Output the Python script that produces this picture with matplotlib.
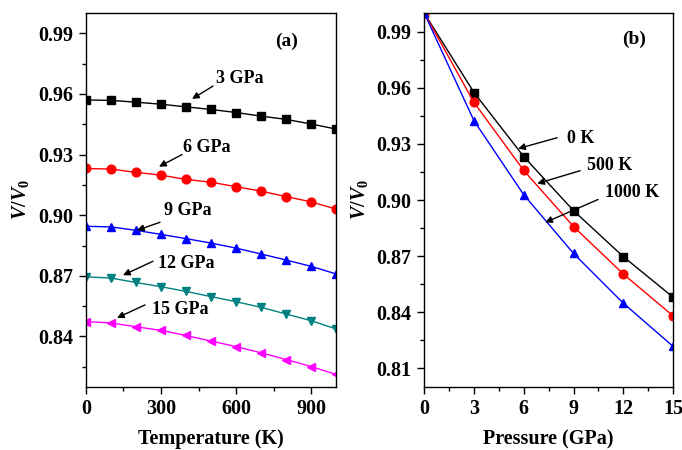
import matplotlib
matplotlib.use('Agg')
import matplotlib.pyplot as plt
from matplotlib.ticker import MultipleLocator, FormatStrFormatter

plt.rcParams['font.family'] = 'Liberation Serif'
plt.rcParams['font.weight'] = 'bold'
plt.rcParams['mathtext.fontset'] = 'custom'
plt.rcParams['mathtext.it'] = 'Liberation Serif:italic:bold'
plt.rcParams['mathtext.rm'] = 'Liberation Serif:bold'
plt.rcParams['mathtext.bf'] = 'Liberation Serif:bold'

# (a) V/V0 vs temperature at fixed pressures
temps = [0, 100, 200, 300, 400, 500, 600, 700, 800, 900, 1000]
v_3gpa = [0.9570, 0.9568, 0.9559, 0.9549, 0.9536, 0.9523, 0.9508, 0.9490, 0.9474, 0.9451, 0.9426]
v_6gpa = [0.9231, 0.9228, 0.9212, 0.9198, 0.9177, 0.9163, 0.9141, 0.9119, 0.9092, 0.9066, 0.9030]
v_9gpa = [0.8945, 0.8942, 0.8925, 0.8905, 0.8884, 0.8862, 0.8837, 0.8808, 0.8778, 0.8747, 0.8709]
v_12gpa = [0.8695, 0.8689, 0.8667, 0.8646, 0.8623, 0.8597, 0.8572, 0.8544, 0.8511, 0.8478, 0.8437]
v_15gpa = [0.8474, 0.8467, 0.8448, 0.8430, 0.8405, 0.8377, 0.8350, 0.8319, 0.8286, 0.8251, 0.8212]

# (b) V/V0 vs pressure at fixed temperatures
press = [0, 3, 6, 9, 12, 15]
v_0k = [1.0, 0.9575, 0.9232, 0.8943, 0.8697, 0.8480]
v_500k = [1.0, 0.9522, 0.9158, 0.8858, 0.8604, 0.8380]
v_1000k = [1.0, 0.9424, 0.9028, 0.8714, 0.8448, 0.8217]

fig = plt.figure(figsize=(6.82, 4.5), dpi=100)
ax1 = fig.add_axes([0.126, 0.14, 0.367, 0.831])
ax2 = fig.add_axes([0.622, 0.14, 0.365, 0.831])

ms = 5.8
ax1.plot(temps, v_3gpa, color='black', marker='s', ms=ms, lw=1)
ax1.plot(temps, v_6gpa, color='red', marker='o', ms=ms + 0.5, lw=1)
ax1.plot(temps, v_9gpa, color='blue', marker='^', ms=ms + 0.5, lw=1)
ax1.plot(temps, v_12gpa, color='#008080', marker='v', ms=ms + 0.5, lw=1)
ax1.plot(temps, v_15gpa, color='magenta', marker='<', ms=ms + 0.5, lw=1)

ax2.plot(press, v_0k, color='black', marker='s', ms=ms, lw=1)
ax2.plot(press, v_500k, color='red', marker='o', ms=ms + 0.5, lw=1)
ax2.plot(press, v_1000k, color='blue', marker='^', ms=ms + 0.5, lw=1)

fs = 14.5
ax1.set_xlim(0, 1000)
ax1.set_ylim(0.815, 1.0)
ax1.xaxis.set_major_locator(MultipleLocator(300))
ax1.xaxis.set_minor_locator(MultipleLocator(150))
ax1.yaxis.set_major_locator(MultipleLocator(0.03))
ax1.yaxis.set_minor_locator(MultipleLocator(0.015))
ax1.set_xlabel('Temperature (K)', fontsize=fs, fontweight='bold', labelpad=7)
ax1.set_ylabel(r'$V/V_0$', fontsize=fs, labelpad=5)

ax2.set_xlim(0, 15)
ax2.set_ylim(0.80, 1.0)
ax2.xaxis.set_major_locator(MultipleLocator(3))
ax2.xaxis.set_minor_locator(MultipleLocator(1.5))
ax2.yaxis.set_major_locator(MultipleLocator(0.03))
ax2.yaxis.set_minor_locator(MultipleLocator(0.015))
ax2.set_xlabel('Pressure (GPa)', fontsize=fs, fontweight='bold', labelpad=7)
ax2.set_ylabel(r'$V/V_0$', fontsize=fs, labelpad=5)

for ax in (ax1, ax2):
    ax.tick_params(which='major', direction='out', length=5, width=1, labelsize=fs, pad=4)
    ax.tick_params(which='minor', direction='out', length=3, width=1)
    ax.tick_params(top=False, right=False, which='both')
    for sp in ax.spines.values():
        sp.set_linewidth(1)
    ax.yaxis.set_major_formatter(FormatStrFormatter('%.2f'))
    ax.xaxis.set_major_formatter(FormatStrFormatter('%d'))
    for lab in ax.get_xticklabels() + ax.get_yticklabels():
        lab.set_fontweight('bold')

arrow = dict(arrowstyle='-|>', color='black', lw=1, mutation_scale=10,
             shrinkA=0, shrinkB=0)
ann_fs = 13


def label(ax, text, txy, tail, head):
    ax.text(txy[0], txy[1], text, fontsize=ann_fs, fontweight='bold',
            ha='center', va='center')
    ax.annotate('', xy=head, xytext=tail, arrowprops=arrow)


ax1.text(0.80, 0.925, '(a)', transform=ax1.transAxes, fontsize=ann_fs + 1,
         fontweight='bold', ha='center', va='center')
label(ax1, '3 GPa', (616, 0.9676), (508, 0.9639), (424, 0.9575))
label(ax1, '6 GPa', (484, 0.9334), (384, 0.9300), (292, 0.9240))
label(ax1, '9 GPa', (408, 0.9024), (296, 0.8965), (204, 0.8925))
label(ax1, '12 GPa', (400, 0.8763), (268, 0.8772), (148, 0.8703))
label(ax1, '15 GPa', (378, 0.8531), (236, 0.8556), (124, 0.8492))

ax2.text(0.843, 0.93, '(b)', transform=ax2.transAxes, fontsize=ann_fs + 1,
         fontweight='bold', ha='center', va='center')
label(ax2, '0 K', (9.40, 0.9328), (8.01, 0.9333), (5.66, 0.9275))
label(ax2, '500 K', (11.2, 0.9184), (9.40, 0.9157), (6.81, 0.9088))
label(ax2, '1000 K', (12.55, 0.9040), (10.48, 0.9003), (7.29, 0.8880))

fig.savefig('out.png', dpi=100)
